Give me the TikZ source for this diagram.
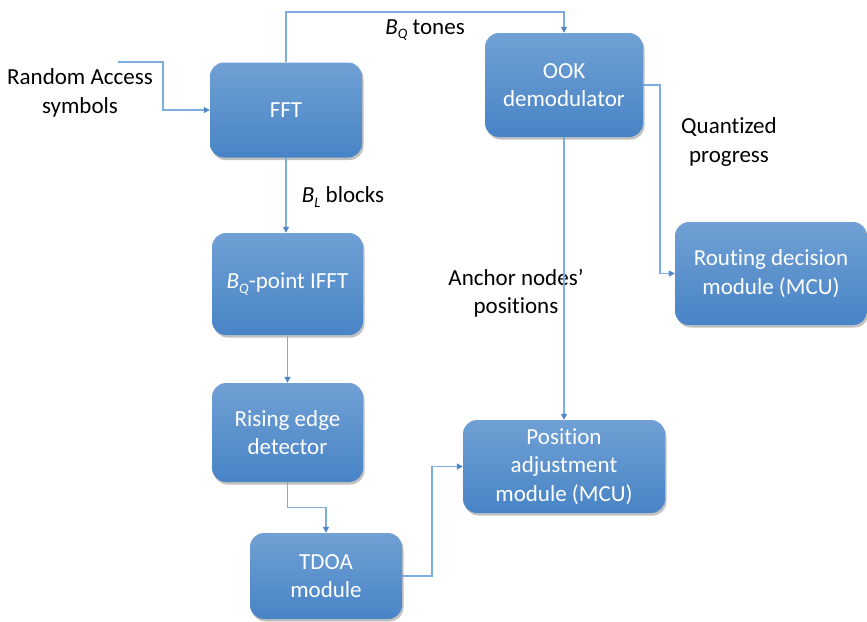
\documentclass[tikz,border=0pt]{standalone}
\usepackage{fontspec}
\setmainfont{Carlito}[Ligatures=NoCommon]
\usetikzlibrary{arrows.meta,shadows}
\definecolor{boxtop}{RGB}{112,160,212}
\definecolor{boxbot}{RGB}{72,132,198}
\definecolor{wire}{RGB}{125,172,222}
\definecolor{tipc}{RGB}{80,135,200}
\newcommand\subit[2]{\textit{#1}\raisebox{-0.4ex}{\fontsize{14.5}{14.5}\selectfont\textit{#2}}}
\tikzset{
  blk/.style={rectangle, rounded corners=14pt, top color=boxtop, bottom color=boxbot,
    draw=none, text=white, align=center, font=\fontsize{23}{28.5}\selectfont,
    drop shadow={shadow xshift=1.5pt, shadow yshift=-2.5pt, opacity=0.35, fill=black!70}},
  lbl/.style={align=center, text=black, font=\fontsize{23}{28.5}\selectfont},
  wirel/.style={draw=wire, line width=1.2pt},
  arr/.style={wirel, -{Triangle[length=6pt,width=6pt,fill=tipc,color=tipc]}}
}
\begin{document}
\begin{tikzpicture}[x=1pt,y=-1pt]
\useasboundingbox (0,0) rectangle (867,621);
\node[blk, minimum width=152pt, minimum height=95pt] (fft) at (286,110) {FFT};
\node[blk, minimum width=158pt, minimum height=104pt] (ook) at (564,85) {OOK\\demodulator};
\node[blk, minimum width=151pt, minimum height=102pt] (ifft) at (287.5,284) {\subit{B}{Q}-point IFFT};
\node[blk, minimum width=151pt, minimum height=99pt] (rise) at (287.5,432.5) {Rising edge\\detector};
\node[blk, minimum width=152pt, minimum height=86pt] (tdoa) at (326,576) {TDOA\\module};
\node[blk, minimum width=202pt, minimum height=93pt] (pos) at (564,466.5) {Position\\adjustment\\module (MCU)};
\node[blk, minimum width=192pt, minimum height=103pt] (rout) at (771,273.5) {Routing decision\\module (MCU)};

\node[lbl] (lin) at (80,93) {Random Access\\symbols};
\node[lbl] (ltones) at (425,30) {\subit{B}{Q} tones};
\node[lbl] (lblocks) at (343,197) {\subit{B}{L} blocks};
\node[lbl] (lquant) at (729,142) {Quantized\\progress};
\node[lbl] (lanchor) at (516,293) {Anchor nodes’\\positions};

\coordinate (inp) at (118,62);
\draw[arr] (inp) -- (163,62) |- (fft.west);
\draw[arr] (fft.north) -- (fft.north |- 0,12) -| (ook.north);
\draw[arr] (fft.south) -- (fft.south |- ifft.north);
\draw[arr] (ifft.south) -- (ifft.south |- rise.north);
\draw[arr] (rise.south) -- ++(0,25) -| (tdoa.north);
\draw[arr] (tdoa.east) -- (432,576) |- (pos.west);
\draw[arr] (ook.south) -- (pos.north);
\draw[arr] (ook.east) -- (660,85) |- (rout.west);
\end{tikzpicture}
\end{document}
